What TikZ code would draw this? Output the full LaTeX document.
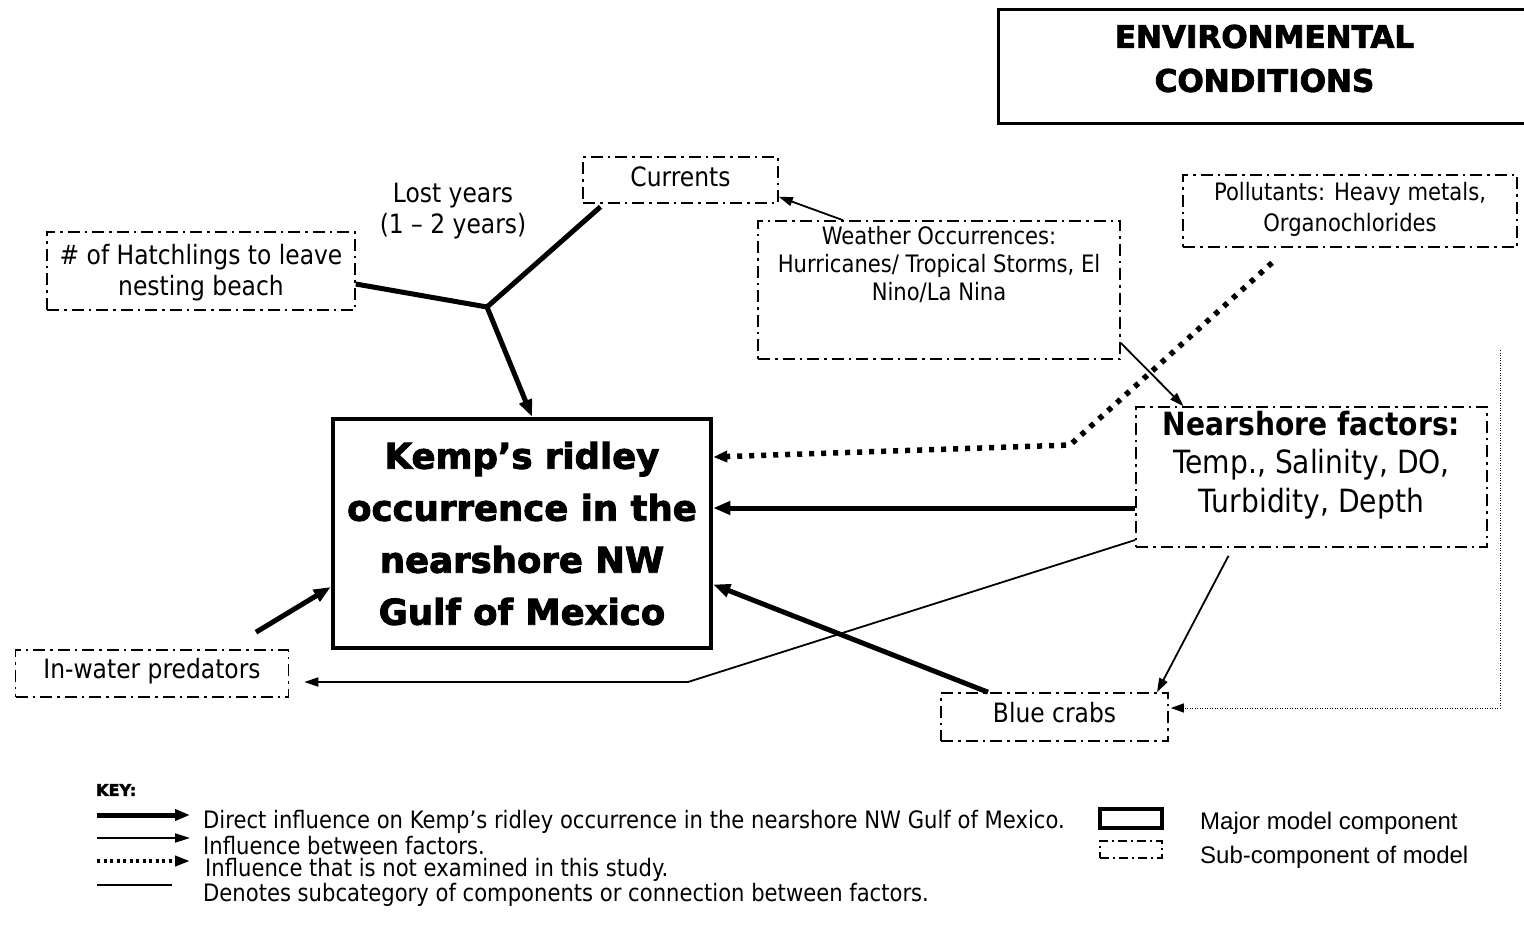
\documentclass[tikz,border=0pt]{standalone}
\usepackage{fontspec}
\setmainfont{DejaVu Sans}[FakeStretch=0.88]
\newfontfamily\heavyfont{DejaVu Sans}[UprightFont={* Bold},FakeBold=2.6]
\newfontfamily\arialfont{Liberation Sans}
\usetikzlibrary{arrows.meta}

\begin{document}
\begin{tikzpicture}[x=1pt,y=-1pt,
  major/.style={draw, line width=4.5pt, inner sep=0pt, align=center},
  minor/.style={draw, line width=1.6pt, dash pattern=on 12pt off 5pt on 2.5pt off 5pt,
                inner sep=0pt, align=center},
  bigtxt/.style={font=\fontsize{26.6}{31}\selectfont},
  midtxt/.style={font=\fontsize{24}{28}\selectfont},
  keytxt/.style={font=\fontsize{24}{28}\selectfont, anchor=west, inner sep=0pt},
  thickline/.style={line width=5pt},
  strong/.style={line width=5pt, -{Triangle[length=17pt,width=13pt]}},
  weak/.style={line width=1.8pt, -{Triangle[length=14pt,width=9pt]}},
  plainline/.style={line width=1.8pt},
  untested/.style={line width=5.5pt, dash pattern=on 5pt off 7pt,
                   -{Triangle[length=14pt,width=11pt]}},
  faint/.style={line width=1pt, dash pattern=on 1pt off 1.5pt,
                -{Triangle[length=13pt,width=9pt]}},
]
\useasboundingbox (0,0) rectangle (1524,926);

% ---- boxes ----
\node[draw, line width=3pt, minimum width=532pt, minimum height=114pt, anchor=north west,
      label={[font=\heavyfont\fontsize{31}{44}\selectfont, align=center, yshift=8pt]center:ENVIRONMENTAL\\CONDITIONS}]
      (env) at (997,8) {};

\node[major, minimum width=378pt, minimum height=229pt,
      font=\heavyfont\fontsize{35.5}{52}\selectfont] (kemp) at (522,533.5)
      {Kemp’s ridley\\occurrence in the\\nearshore NW\\Gulf of Mexico};

\node[minor, bigtxt, minimum width=308pt, minimum height=78pt, text depth=3pt] (hatch) at (201,271)
      {\# of Hatchlings to leave\\nesting beach};

\node[bigtxt, align=center, inner sep=0pt] (lost) at (453,211) {Lost years\\(1 – 2 years)};

\node[minor, bigtxt, minimum width=195pt, minimum height=46pt, text depth=6pt] (currents) at (680.5,180) {Currents};

\node[minor, minimum width=362pt, minimum height=138pt,
      label={[midtxt, align=center, anchor=north, inner sep=0pt, yshift=-6pt]north:Weather Occurrences:\\Hurricanes/ Tropical Storms, El\\Nino/La Nina}]
      (weather) at (939,290) {};

\node[minor, font=\fontsize{24}{31}\selectfont, minimum width=334pt, minimum height=72pt, text depth=9pt]
      (pollut) at (1350,211) {Pollutants: Heavy metals,\\Organochlorides};

\node[minor, minimum width=351pt, minimum height=140pt,
      label={[font=\fontsize{32}{38.5}\selectfont, align=center, inner sep=0pt, yshift=12pt]center:{\bfseries Nearshore factors:}\\Temp., Salinity, DO,\\Turbidity, Depth}]
      (near) at (1311.5,477) {};

\node[minor, bigtxt, minimum width=273pt, minimum height=47pt, text depth=10pt] (pred) at (152,673.5) {In-water predators};

\node[minor, bigtxt, minimum width=227pt, minimum height=48pt, text depth=10pt] (crabs) at (1054.5,717) {Blue crabs};

% ---- connectors ----
\coordinate (J) at (487,307);
\draw[thickline] ([yshift=-13pt]hatch.east) -- (J);
\draw[thickline] ([xshift=-80pt,yshift=-3pt]currents.south) -- (J);
\draw[strong] (J) -- ([xshift=10pt]kemp.north);

\draw[weak] ([xshift=-96pt]weather.north) -- ([yshift=7pt]currents.south east);
\draw[weak] ([yshift=-53pt]weather.east) -- ([xshift=-128pt]near.north);

\coordinate (bend) at (1070,445);
\draw[untested] ([xshift=-78pt,yshift=-15pt]pollut.south) -- (bend) -- ([yshift=76.5pt]kemp.east);

\draw[strong] ([yshift=-31pt]near.west) -- ([yshift=-31pt]near.west -| kemp.east);

\coordinate (elbow) at (688,682);
\draw[weak] ([yshift=-63pt]near.west) -- (elbow) -- ([xshift=15pt,yshift=-8.5pt]pred.east);

\draw[weak] ([xshift=-83pt,yshift=-8pt]near.south) -- ([xshift=102.5pt]crabs.north);
\draw[strong] ([xshift=-66.5pt]crabs.north) -- ([yshift=-51pt]kemp.east);
\draw[strong] ([xshift=104pt,yshift=17pt]pred.north) -- ([yshift=-53.5pt]kemp.west);

\coordinate (dotstart) at (1500,350);
\draw[faint] (dotstart) |- ([xshift=2pt,yshift=9pt]crabs.east);

% ---- key ----
\node[font=\heavyfont\fontsize{16}{18}\selectfont, anchor=west, inner sep=0pt] (keyhead) at (96,790) {KEY:};

\coordinate (k1a) at (97,815);  \coordinate (k1b) at (190,815);
\coordinate (k2a) at (97,838);  \coordinate (k2b) at (190,838);
\coordinate (k3a) at (97,861);  \coordinate (k3b) at (190,861);
\coordinate (k4a) at (97,885);  \coordinate (k4b) at (172,885);
\draw[line width=5pt, -{Triangle[length=15pt,width=11pt]}] (k1a) -- (k1b);
\draw[line width=1.8pt, -{Triangle[length=15pt,width=9pt]}] (k2a) -- (k2b);
\draw[line width=4pt, dash pattern=on 3pt off 3.5pt, -{Triangle[length=15pt,width=10pt]}] (k3a) -- (k3b);
\draw[plainline] (k4a) -- (k4b);

\node[keytxt] (t1) at (203,822) {Direct influence on Kemp’s ridley occurrence in the nearshore NW Gulf of Mexico.};
\node[keytxt] (t2) at (203,846) {Influence between factors.};
\node[keytxt] (t3) at (205,870) {Influence that is not examined in this study.};
\node[keytxt] (t4) at (203,895) {Denotes subcategory of components or connection between factors.};

\node[draw, line width=4pt, minimum width=62pt, minimum height=19pt, inner sep=0pt] (kmajor) at (1131,818.5) {};
\node[draw, line width=1.4pt, dash pattern=on 9pt off 4pt on 2pt off 4pt, minimum width=62pt, minimum height=17pt, inner sep=0pt] (kminor) at (1131,849.5) {};
\node[keytxt, font=\arialfont\fontsize{24}{28}\selectfont] (t5) at (1200,823) {Major model component};
\node[keytxt, font=\arialfont\fontsize{24}{28}\selectfont] (t6) at (1200,857) {Sub-component of model};
\end{tikzpicture}
\end{document}
